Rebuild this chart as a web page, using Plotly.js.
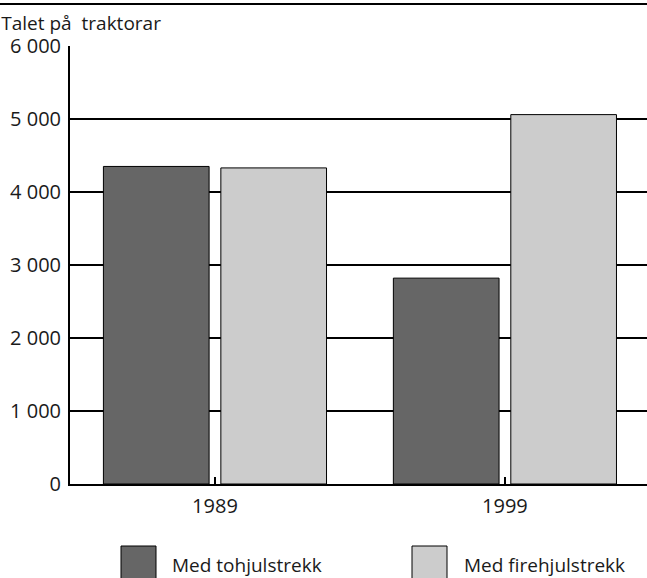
<!DOCTYPE html>
<html>
<head>
<meta charset="utf-8">
<script src="https://cdn.plot.ly/plotly-3.0.1.min.js"></script>
<style>html,body{margin:0;padding:0;background:#fff;}#chart{width:647px;height:578px;}</style>
</head>
<body>
<div id="chart"></div>
<script>
const categories = ['1989', '1999'];
const seriesNames = ['Med tohjulstrekk', 'Med firehjulstrekk'];
const tohjul = [4350, 2820];
const firehjul = [4330, 5060];
const yTickVals = [0, 1000, 2000, 3000, 4000, 5000, 6000];
const yTickText = ['0', '1 000', '2 000', '3 000', '4 000', '5 000', '6 000'];
const yTitle = 'Talet på\u00a0 traktorar';
const colors = ['#666666', '#cccccc'];

const font = {family: 'Open Sans, sans-serif', size: 20, color: '#1a1a1a'};
const titleFont = {family: 'Open Sans, sans-serif', size: 19, color: '#1a1a1a'};
const legFont = {family: 'Open Sans, sans-serif', size: 19, color: '#1a1a1a'};

const traces = [tohjul, firehjul].map((vals, i) => ({
  type: 'bar', x: categories, y: vals, name: seriesNames[i],
  marker: {color: colors[i], line: {color: '#000', width: 1}},
  showlegend: false, hoverinfo: 'none'
}));

const W = 577, H = 438, L = 70, T = 46;
const px = X => (X - L) / W;
const py = Y => (T + H - Y) / H;

const shapes = [
  {type: 'line', xref: 'paper', yref: 'paper', x0: px(0), x1: px(647), y0: py(4), y1: py(4), line: {color: '#000', width: 2}}
];
const annotations = [];
const legX = [121, 412];
const legTextX = [170, 462];
seriesNames.forEach((n, i) => {
  shapes.push({type: 'rect', xref: 'paper', yref: 'paper', x0: px(legX[i]), x1: px(legX[i] + 35), y0: py(582), y1: py(546),
    fillcolor: colors[i], line: {color: '#000', width: 1}});
  annotations.push({xref: 'paper', yref: 'paper', x: px(legTextX[i]), y: py(565), xanchor: 'left', yanchor: 'middle',
    text: n, showarrow: false, font: legFont});
});

const layout = {
  width: 647, height: 578,
  margin: {l: L, r: 647 - L - W, t: T, b: 578 - T - H, pad: 0},
  paper_bgcolor: '#fff', plot_bgcolor: '#fff',
  font: font,
  title: {text: yTitle, x: 0.002, xref: 'container', xanchor: 'left', y: 1 - 23 / 578, yref: 'container', yanchor: 'middle', font: titleFont},
  barmode: 'group', bargap: 0.19, bargroupgap: 0.1,
  xaxis: {type: 'category', range: [-0.5, 1.49], showline: true, linecolor: '#000', linewidth: 2,
    ticks: 'inside', ticklen: 7, tickwidth: 2, tickcolor: '#000', showgrid: false, zeroline: false,
    tickfont: font, ticklabelstandoff: 3, fixedrange: true},
  yaxis: {range: [0, 6000], tickvals: yTickVals, ticktext: yTickText, showline: true, linecolor: '#000', linewidth: 2,
    ticks: '', showgrid: true, gridcolor: '#000', gridwidth: 2, zeroline: false, tickfont: font,
    ticklabelstandoff: 3, fixedrange: true},
  shapes: shapes, annotations: annotations
};

Plotly.newPlot('chart', traces, layout, {displayModeBar: false, staticPlot: true});
</script>
</body>
</html>
